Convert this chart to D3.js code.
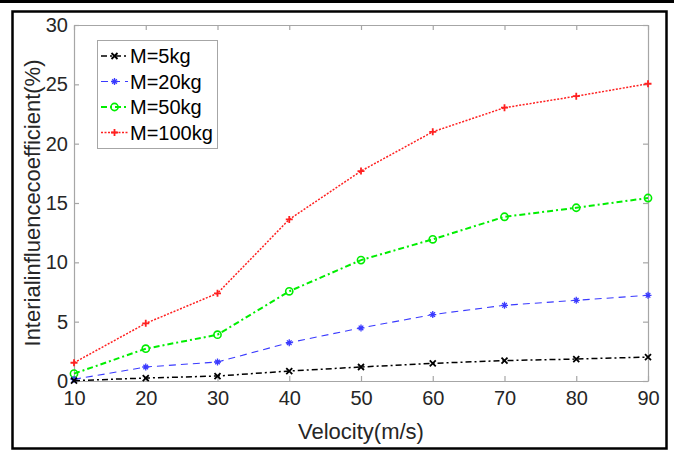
<!DOCTYPE html>
<html lang='en'>
	<head>
		<title>Interial influence coefficient</title>
		<script type='text/javascript' src='https://cdn.jsdelivr.net/npm/d3@7'></script>
		<style>
			body { margin: 0; background: #fff; }
			text { font-family: 'Liberation Sans', Arial, sans-serif; }
		</style>
	</head>
	<body>
		<script type='text/javascript'>
		var velocity = [10, 20, 30, 40, 50, 60, 70, 80, 90];
		var m5 = [0.03, 0.25, 0.42, 0.84, 1.18, 1.49, 1.72, 1.85, 2.02];
		var m20 = [0.14, 1.18, 1.6, 3.23, 4.47, 5.6, 6.38, 6.8, 7.22];
		var m50 = [0.62, 2.72, 3.9, 7.56, 10.19, 11.94, 13.84, 14.6, 15.42];
		var m100 = [1.54, 4.86, 7.39, 13.62, 17.69, 21.0, 23.03, 24.0, 25.05];
		var seriesNames = ['M=5kg', 'M=20kg', 'M=50kg', 'M=100kg'];
		var xTicks = [10, 20, 30, 40, 50, 60, 70, 80, 90];
		var yTicks = [0, 5, 10, 15, 20, 25, 30];

		(function() {
			var width = 674, height = 452;
			var svg = d3.select('body').append('svg').attr('width', width).attr('height', height)

			// black band at top and the figure frame
			svg.append('rect').attr('x', 0).attr('y', 0).attr('width', width).attr('height', 3).attr('fill', '#000')
			svg.append('rect').attr('x', 12.5).attr('y', 11.5).attr('width', 654).attr('height', 437)
				.attr('fill', 'none').attr('stroke', '#000').attr('stroke-width', 2.5)

			var pLeft = 74, pRight = 648, pTop = 25, pBottom = 381;
			var x = d3.scaleLinear().domain([10, 90]).range([pLeft, pRight])
			var y = d3.scaleLinear().domain([0, 30]).range([pBottom, pTop])

			var axisColor = '#a6a6a6', textColor = '#262626';

			var gx = svg.append('g').attr('transform', 'translate(0,' + pBottom + ')')
				.call(d3.axisBottom(x).tickValues(xTicks).tickSizeInner(-5).tickSizeOuter(0).tickPadding(10))
			var gy = svg.append('g').attr('transform', 'translate(' + pLeft + ',0)')
				.call(d3.axisLeft(y).tickValues(yTicks).tickSizeInner(-5).tickSizeOuter(0).tickPadding(6))
			var gxt = svg.append('g').attr('transform', 'translate(0,' + pTop + ')')
				.call(d3.axisTop(x).tickValues(xTicks).tickSizeInner(-5).tickSizeOuter(0).tickFormat(''))
			var gyr = svg.append('g').attr('transform', 'translate(' + pRight + ',0)')
				.call(d3.axisRight(y).tickValues(yTicks).tickSizeInner(-5).tickSizeOuter(0).tickFormat(''))

			;[gx, gy, gxt, gyr].forEach(function(g) {
				g.select('.domain').attr('stroke', axisColor).attr('stroke-width', 1.2)
				g.selectAll('.tick line').attr('stroke', axisColor).attr('stroke-width', 1.2)
				g.selectAll('.tick text').attr('fill', textColor).style('font-size', '20px')
					.style('font-family', "'Liberation Sans', Arial, sans-serif")
			})

			svg.append('text').attr('x', (pLeft + pRight) / 2).attr('y', 439).attr('text-anchor', 'middle')
				.attr('fill', textColor).style('font-size', '22px').text('Velocity(m/s)')
			svg.append('text').attr('transform', 'translate(40,' + ((pTop + pBottom) / 2) + ') rotate(-90)')
				.attr('text-anchor', 'middle').attr('fill', textColor).style('font-size', '22px')
				.text('Interialinfluencecoefficient(%)')

			var styles = [
				{ data: m5, color: '#000000', dash: '6,3,2,3', width: 1.5, marker: 'x' },
				{ data: m20, color: '#3a3aff', dash: '7,5', width: 1.1, marker: 'star' },
				{ data: m50, color: '#00ee00', dash: '6,3,2,3', width: 2, marker: 'circle' },
				{ data: m100, color: '#ff2020', dash: '2,1.5', width: 1.5, marker: 'plus' }
			];

			var line = d3.line().x(function(d, i) { return x(velocity[i]) }).y(function(d) { return y(d) })

			function drawMarker(g, type, cx, cy, color) {
				var s = 3.5;
				if (type === 'circle') {
					g.append('circle').attr('cx', cx).attr('cy', cy).attr('r', 3.6)
						.attr('fill', 'none').attr('stroke', color).attr('stroke-width', 1.6)
				} else if (type === 'x') {
					g.append('path').attr('d', 'M' + (cx - 3) + ',' + (cy - 3) + 'L' + (cx + 3) + ',' + (cy + 3) +
						'M' + (cx - 3) + ',' + (cy + 3) + 'L' + (cx + 3) + ',' + (cy - 3))
						.attr('stroke', color).attr('stroke-width', 1.8)
				} else if (type === 'plus') {
					g.append('path').attr('d', 'M' + (cx - s) + ',' + cy + 'L' + (cx + s) + ',' + cy +
						'M' + cx + ',' + (cy - s) + 'L' + cx + ',' + (cy + s))
						.attr('stroke', color).attr('stroke-width', 1.8)
				} else {
					var b = 2.3;
					g.append('path').attr('d', 'M' + (cx - s) + ',' + cy + 'L' + (cx + s) + ',' + cy +
						'M' + cx + ',' + (cy - s) + 'L' + cx + ',' + (cy + s) +
						'M' + (cx - b) + ',' + (cy - b) + 'L' + (cx + b) + ',' + (cy + b) +
						'M' + (cx - b) + ',' + (cy + b) + 'L' + (cx + b) + ',' + (cy - b))
						.attr('stroke', color).attr('stroke-width', 1.3)
				}
			}

			// draw from largest to smallest so black stays on top
			styles.slice().reverse().forEach(function(st) {
				var g = svg.append('g')
				g.append('path').datum(st.data).attr('d', line).attr('fill', 'none')
					.attr('stroke', st.color).attr('stroke-width', st.width).attr('stroke-dasharray', st.dash)
				st.data.forEach(function(d, i) { drawMarker(g, st.marker, x(velocity[i]), y(d), st.color) })
			})

			// legend
			var lg = svg.append('g')
			lg.append('rect').attr('x', 97.5).attr('y', 40.5).attr('width', 120).attr('height', 108)
				.attr('fill', '#fff').attr('stroke', '#a6a6a6').attr('stroke-width', 1)
			styles.forEach(function(st, i) {
				var ly = 56 + i * 25.5;
				lg.append('path').attr('d', 'M101,' + ly + 'L128,' + ly).attr('fill', 'none')
					.attr('stroke', st.color).attr('stroke-width', st.width).attr('stroke-dasharray', st.dash)
				drawMarker(lg, st.marker, 114.5, ly, st.color)
				lg.append('text').attr('x', 130).attr('y', ly + 7).attr('fill', '#000')
					.style('font-size', '20px').text(seriesNames[i])
			})
		})();
		</script>
	</body>
</html>
